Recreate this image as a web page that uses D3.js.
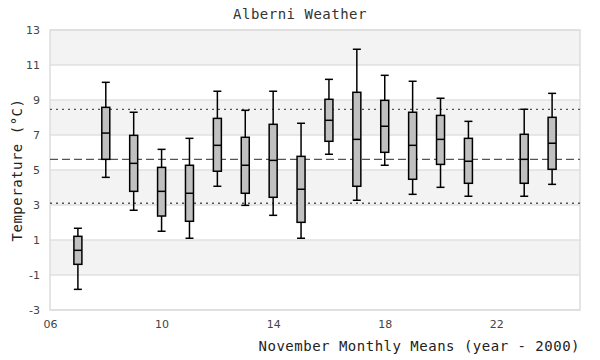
<!DOCTYPE html>
<html>
<head>
<meta charset="utf-8">
<script src="https://cdn.jsdelivr.net/npm/d3@7"></script>
<style>
  html, body { margin: 0; padding: 0; background: #fff; }
  svg { display: block; }
</style>
</head>
<body>
<svg id="chart" width="600" height="360"></svg>
<script>
// ---- data ----
const years       = [7, 8, 9, 10, 11, 12, 13, 14, 15, 16, 17, 18, 19, 20, 21, 23, 24];
const whiskerLow  = [-1.82, 4.58, 2.70, 1.50, 1.10, 4.07, 2.98, 2.41, 1.10, 5.90, 3.27, 5.27, 3.61, 4.01, 3.50, 3.50, 4.18];
const q1          = [-0.39, 5.61, 3.78, 2.37, 2.07, 4.93, 3.67, 3.44, 2.01, 6.64, 4.07, 6.01, 4.47, 5.32, 4.24, 4.24, 5.04];
const median      = [0.41, 7.11, 5.38, 3.78, 3.67, 6.41, 5.27, 5.55, 3.90, 7.84, 6.75, 7.50, 6.41, 6.75, 5.50, 5.61, 6.53];
const q3          = [1.21, 8.58, 6.98, 5.15, 5.27, 7.95, 6.87, 7.61, 5.78, 9.04, 9.44, 8.98, 8.30, 8.12, 6.81, 7.04, 8.01];
const whiskerHigh = [1.67, 10.01, 8.30, 6.18, 6.81, 9.50, 8.41, 9.50, 7.67, 10.18, 11.90, 10.41, 10.07, 9.10, 7.78, 8.47, 9.38];
const overallMean = 5.61;
const upperBand   = 8.47;
const lowerBand   = 3.10;
const yTicks      = [-3, -1, 1, 3, 5, 7, 9, 11, 13];
const xTicks      = [6, 10, 14, 18, 22];
const titleText   = "Alberni Weather";
const xTitle      = "November Monthly Means (year - 2000)";
const yTitle      = "Temperature (°C)";

// ---- layout ----
const pL = 50, pR = 580, pT = 30, pB = 310;
const svg = d3.select("#chart");
const x = d3.scaleLinear().domain([6, 25]).range([pL, pR]);
const y = d3.scaleLinear().domain([-3, 13]).range([pB, pT]);
const monoFont = "'DejaVu Sans Mono', 'Liberation Mono', monospace";

// background bands
const bandStarts = d3.range(-3, 13, 2);
svg.append("g").selectAll("rect").data(bandStarts).join("rect")
  .attr("x", pL).attr("width", pR - pL)
  .attr("y", d => y(d + 2)).attr("height", d => y(d) - y(d + 2))
  .attr("fill", (d, i) => (i % 2 === 1 ? "#f3f3f3" : "#ffffff"));

// grid lines
svg.append("g").selectAll("line").data(yTicks).join("line")
  .attr("x1", pL).attr("x2", pR)
  .attr("y1", d => y(d)).attr("y2", d => y(d))
  .attr("stroke", "#e0e0e0").attr("stroke-width", 1.5);

// border
svg.append("rect").attr("x", pL).attr("y", pT)
  .attr("width", pR - pL).attr("height", pB - pT)
  .attr("fill", "none").attr("stroke", "#dddddd").attr("stroke-width", 1.5);

// reference lines
const refs = [
  {v: upperBand, dash: "2,4"},
  {v: overallMean, dash: "8,4"},
  {v: lowerBand, dash: "2,4"}
];
svg.append("g").selectAll("line").data(refs).join("line")
  .attr("x1", pL).attr("x2", pR)
  .attr("y1", d => y(d.v)).attr("y2", d => y(d.v))
  .attr("stroke", "#555").attr("stroke-width", 1.3)
  .attr("stroke-dasharray", d => d.dash);

// axes
const yAxis = svg.append("g").attr("transform", `translate(${pL - 10},0)`)
  .call(d3.axisLeft(y).tickValues(yTicks).tickSize(0).tickPadding(0).tickFormat(d => String(d)));
yAxis.select(".domain").remove();
yAxis.selectAll("text").attr("font-family", "'DejaVu Sans', sans-serif").attr("font-size", 11).attr("fill", "#444");

const xAxis = svg.append("g").attr("transform", `translate(0,${pB + 10})`)
  .call(d3.axisBottom(x).tickValues(xTicks).tickSize(0).tickPadding(0).tickFormat(d3.format("02d")));
xAxis.select(".domain").remove();
xAxis.selectAll("text").attr("font-family", "'DejaVu Sans', sans-serif").attr("font-size", 11).attr("fill", "#444");

// boxes
const data = years.map((yr, i) => ({yr, lo: whiskerLow[i], q1: q1[i], med: median[i], q3: q3[i], hi: whiskerHigh[i]}));
const bw = 8;
const g = svg.append("g").selectAll("g").data(data).join("g");
g.append("line").attr("x1", d => x(d.yr)).attr("x2", d => x(d.yr))
  .attr("y1", d => y(d.hi)).attr("y2", d => y(d.lo))
  .attr("stroke", "#000").attr("stroke-width", 1.5);
g.append("line").attr("x1", d => x(d.yr) - bw / 2).attr("x2", d => x(d.yr) + bw / 2)
  .attr("y1", d => y(d.hi)).attr("y2", d => y(d.hi))
  .attr("stroke", "#000").attr("stroke-width", 1.5);
g.append("line").attr("x1", d => x(d.yr) - bw / 2).attr("x2", d => x(d.yr) + bw / 2)
  .attr("y1", d => y(d.lo)).attr("y2", d => y(d.lo))
  .attr("stroke", "#000").attr("stroke-width", 1.5);
g.append("rect").attr("x", d => x(d.yr) - bw / 2).attr("width", bw)
  .attr("y", d => y(d.q3)).attr("height", d => y(d.q1) - y(d.q3))
  .attr("fill", "#c0c0c0").attr("stroke", "#000").attr("stroke-width", 1.5);
g.append("line").attr("x1", d => x(d.yr) - bw / 2).attr("x2", d => x(d.yr) + bw / 2)
  .attr("y1", d => y(d.med)).attr("y2", d => y(d.med))
  .attr("stroke", "#000").attr("stroke-width", 1.5);

// titles
svg.append("text").attr("x", 300).attr("y", 19).attr("text-anchor", "middle")
  .attr("font-family", monoFont).attr("font-size", 14).attr("letter-spacing", 0.5)
  .attr("fill", "#333").text(titleText);
svg.append("text").attr("x", 580).attr("y", 351).attr("text-anchor", "end")
  .attr("font-family", monoFont).attr("font-size", 14).attr("letter-spacing", 0.5)
  .attr("fill", "#222").text(xTitle);
svg.append("text").attr("transform", `translate(22,${(pT + pB) / 2}) rotate(-90)`)
  .attr("text-anchor", "middle")
  .attr("font-family", monoFont).attr("font-size", 14).attr("letter-spacing", 0.5)
  .attr("fill", "#222").text(yTitle);
</script>
</body>
</html>
